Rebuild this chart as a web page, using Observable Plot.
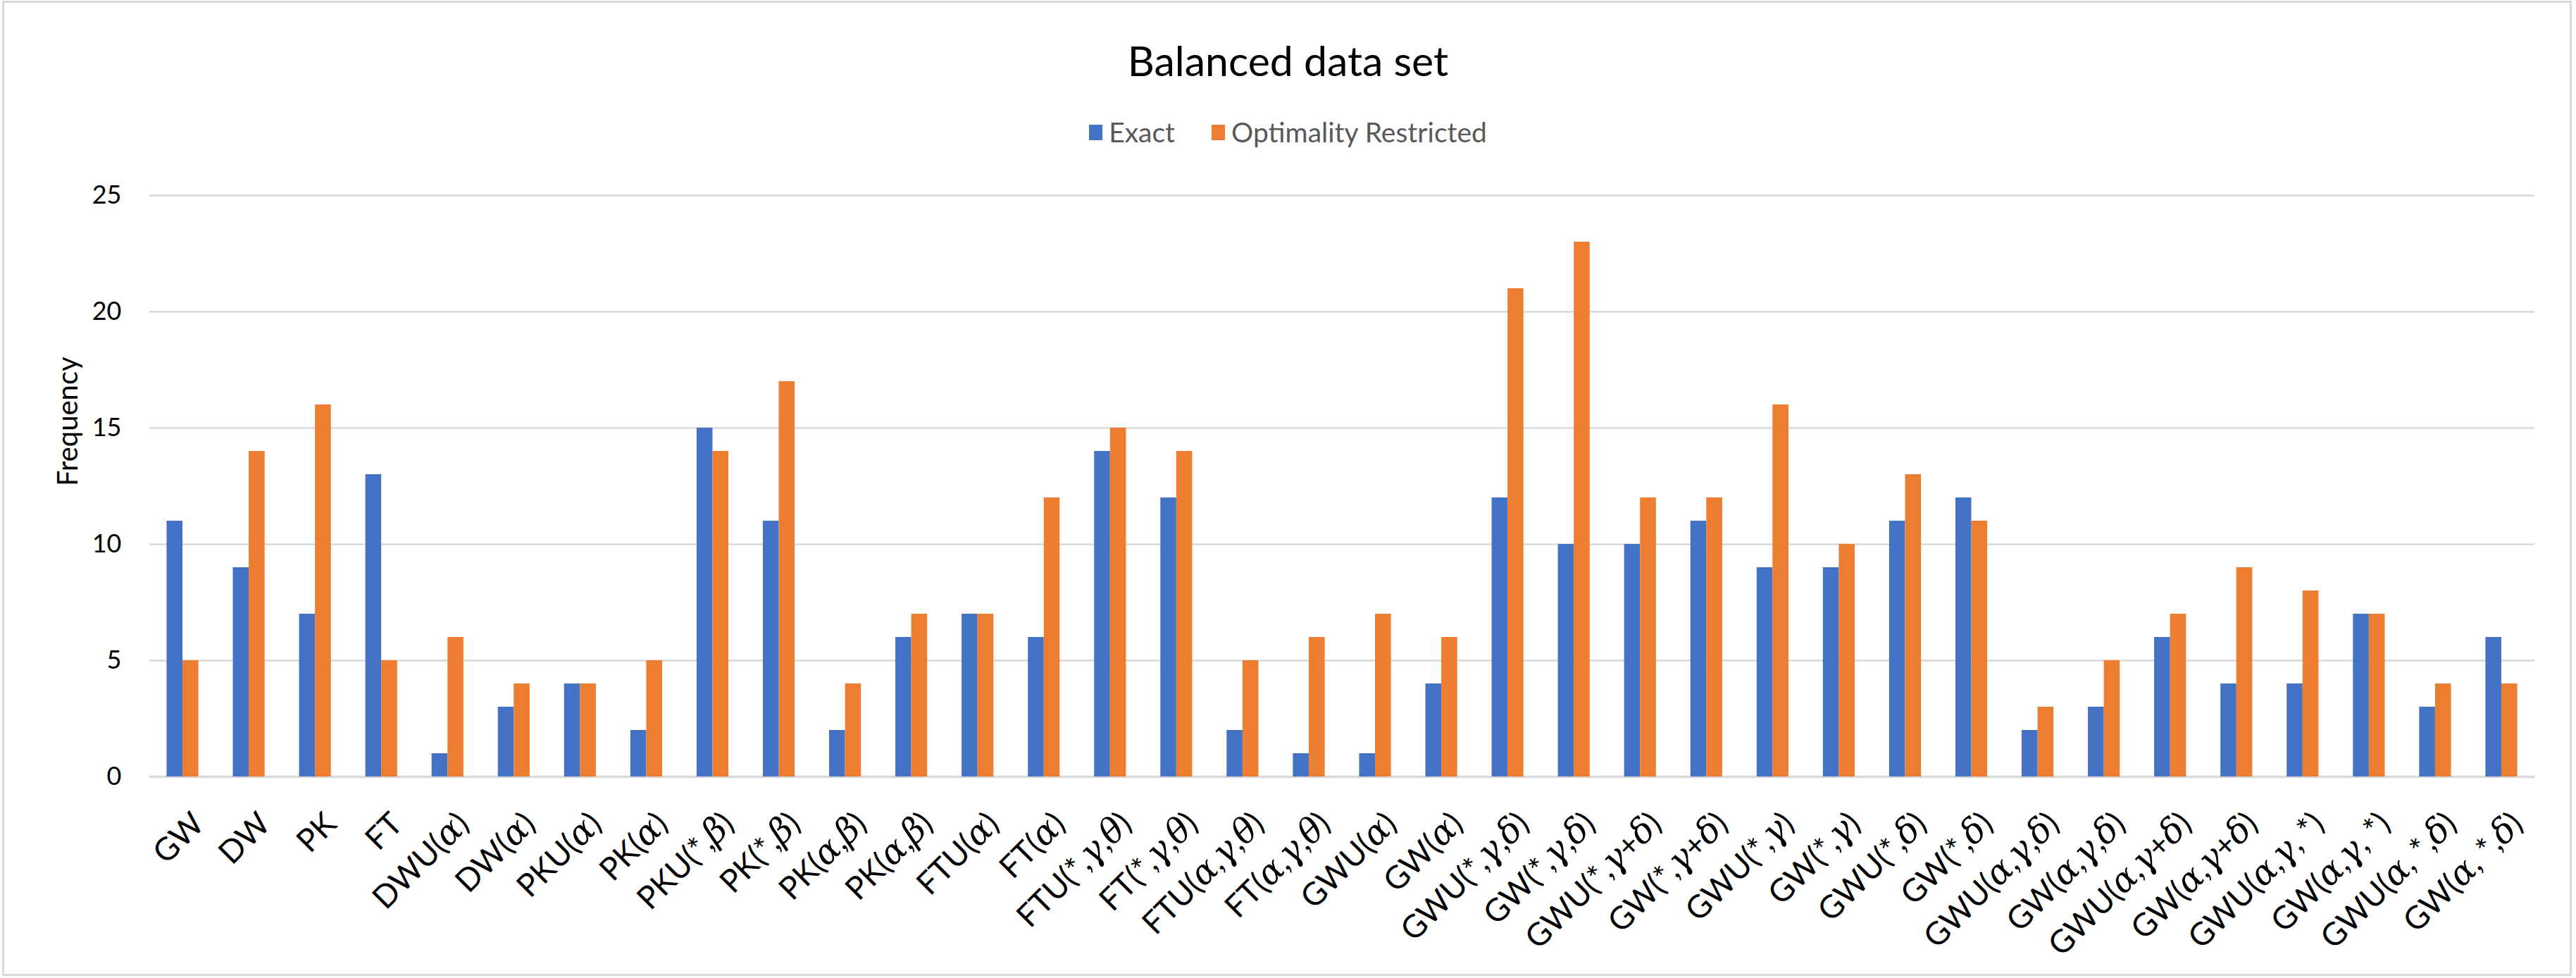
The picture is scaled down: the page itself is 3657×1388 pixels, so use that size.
<!DOCTYPE html>
<html>
<head>
<meta charset="utf-8">
<script src="https://cdn.jsdelivr.net/npm/d3@7"></script>
<script src="https://cdn.jsdelivr.net/npm/@observablehq/plot@0.6"></script>
<style>
  body { margin: 0; background: #fff; }
  #wrap { position: relative; width: 3657px; height: 1388px; font-family: Lato, "Noto Sans", sans-serif; overflow: hidden; }
  #border { position: absolute; left: 3px; top: 1px; width: 3648px; height: 1384px; border: 3px solid #d9d9d9; box-sizing: border-box; }
  #title { position: absolute; left: 0; top: 56px; width: 3657px; text-align: center; font-size: 59px; line-height: 1; color: #000; }
  #legend { position: absolute; left: 0; top: 168px; width: 3657px; display: flex; justify-content: center; align-items: center; font-size: 39px; line-height: 1; color: #595959; }
  .item { display: flex; align-items: center; margin: 0 26px; }
  .sw { width: 19px; height: 22px; margin-right: 9px; }
  #chart { position: absolute; left: 0; top: 230px; }
</style>
</head>
<body>
<div id="wrap">
  <div id="border"></div>
  <div id="title"></div>
  <div id="legend"></div>
  <div id="chart"></div>
</div>
<script>
const title = "Balanced data set";
const categories = ["GW","DW","PK","FT","DWU(α)","DW(α)","PKU(α)","PK(α)","PKU(*,β)","PK(*,β)","PK(α,β)","PK(α,β)","FTU(α)","FT(α)","FTU(*,γ,θ)","FT(*,γ,θ)","FTU(α,γ,θ)","FT(α,γ,θ)","GWU(α)","GW(α)","GWU(*,γ,δ)","GW(*,γ,δ)","GWU(*,γ+δ)","GW(*,γ+δ)","GWU(*,γ)","GW(*,γ)","GWU(*,δ)","GW(*,δ)","GWU(α,γ,δ)","GW(α,γ,δ)","GWU(α,γ+δ)","GW(α,γ+δ)","GWU(α,γ, *)","GW(α,γ, *)","GWU(α, *,δ)","GW(α, *,δ)"];
const series = ["Exact", "Optimality Restricted"];
const exact =      [11, 9, 7,13, 1, 3, 4, 2,15,11, 2, 6, 7, 6,14,12, 2, 1, 1, 4,12,10,10,11, 9, 9,11,12, 2, 3, 6, 4, 4, 7, 3, 6];
const optimality = [ 5,14,16, 5, 6, 4, 4, 5,14,17, 4, 7, 7,12,15,14, 5, 6, 7, 6,21,23,12,12,16,10,13,11, 3, 5, 7, 9, 8, 7, 4, 4];
const yTicks = [0, 5, 10, 15, 20, 25];
const colors = ["#4472C4", "#ED7D31"];
const yLabel = "Frequency";

document.getElementById("title").textContent = title;
const leg = document.getElementById("legend");
series.forEach((s, k) => {
  const it = document.createElement("div"); it.className = "item";
  const sw = document.createElement("div"); sw.className = "sw"; sw.style.background = colors[k];
  const tx = document.createElement("span"); tx.textContent = s;
  it.appendChild(sw); it.appendChild(tx); leg.appendChild(it);
});

const rowsExact = exact.map((v, i) => ({i, series: series[0], value: v}));
const rowsOpt = optimality.map((v, i) => ({i, series: series[1], value: v}));

const W = 3657, H = 1150, mL = 212, mR = 59, mT = 47, mB = 278;
const pInner = 0.52, pOuter = 0.26;
const half = ((W - mL - mR) / categories.length) * (1 - pInner) / 2;

const chart = Plot.plot({
  width: W, height: H,
  marginLeft: mL, marginRight: mR, marginTop: mT, marginBottom: mB,
  style: {fontFamily: 'Lato, "Noto Sans", sans-serif', fontSize: "36px", color: "#000", background: "transparent", overflow: "visible"},
  x: {type: "band", domain: d3.range(categories.length), paddingInner: pInner, paddingOuter: pOuter, round: false, label: null},
  y: {domain: [0, 25], label: null},
  marks: [
    Plot.ruleY(yTicks, {stroke: "#d9d9d9", strokeWidth: 2.5}),
    Plot.ruleY([0], {stroke: "#d9d9d9", strokeWidth: 3.5}),
    Plot.barY(rowsExact, {x: "i", y: "value", fill: colors[0], insetLeft: 0, insetRight: half}),
    Plot.barY(rowsOpt, {x: "i", y: "value", fill: colors[1], insetLeft: half, insetRight: 0}),
    Plot.axisX({tickSize: 0, tickPadding: 47, tickRotate: -45, textAnchor: "end", lineAnchor: "top", dx: 10, tickFormat: i => categories[i], fontSize: 45, label: null}),
    Plot.axisY(yTicks, {tickSize: 0, tickPadding: 40, fontSize: 36, label: null}),
    Plot.text([yLabel], {frameAnchor: "left", dx: -115, rotate: -90, fontSize: 40})
  ]
});

// Greek letters in the tick labels are set in italic (math style)
const greek = /([α-ωΑ-Ω])/;
chart.querySelectorAll('g[aria-label="x-axis tick label"] text').forEach(t => {
  const s = t.textContent;
  if (!greek.test(s)) return;
  while (t.firstChild) t.removeChild(t.firstChild);
  s.split(greek).forEach(part => {
    if (!part) return;
    const ts = document.createElementNS("http://www.w3.org/2000/svg", "tspan");
    ts.textContent = part;
    if (greek.test(part)) {
      ts.setAttribute("font-style", "italic");
      ts.setAttribute("font-family", '"DejaVu Serif", serif');
      ts.setAttribute("font-size", "49");
    }
    t.appendChild(ts);
  });
});

document.getElementById("chart").appendChild(chart);
</script>
</body>
</html>
